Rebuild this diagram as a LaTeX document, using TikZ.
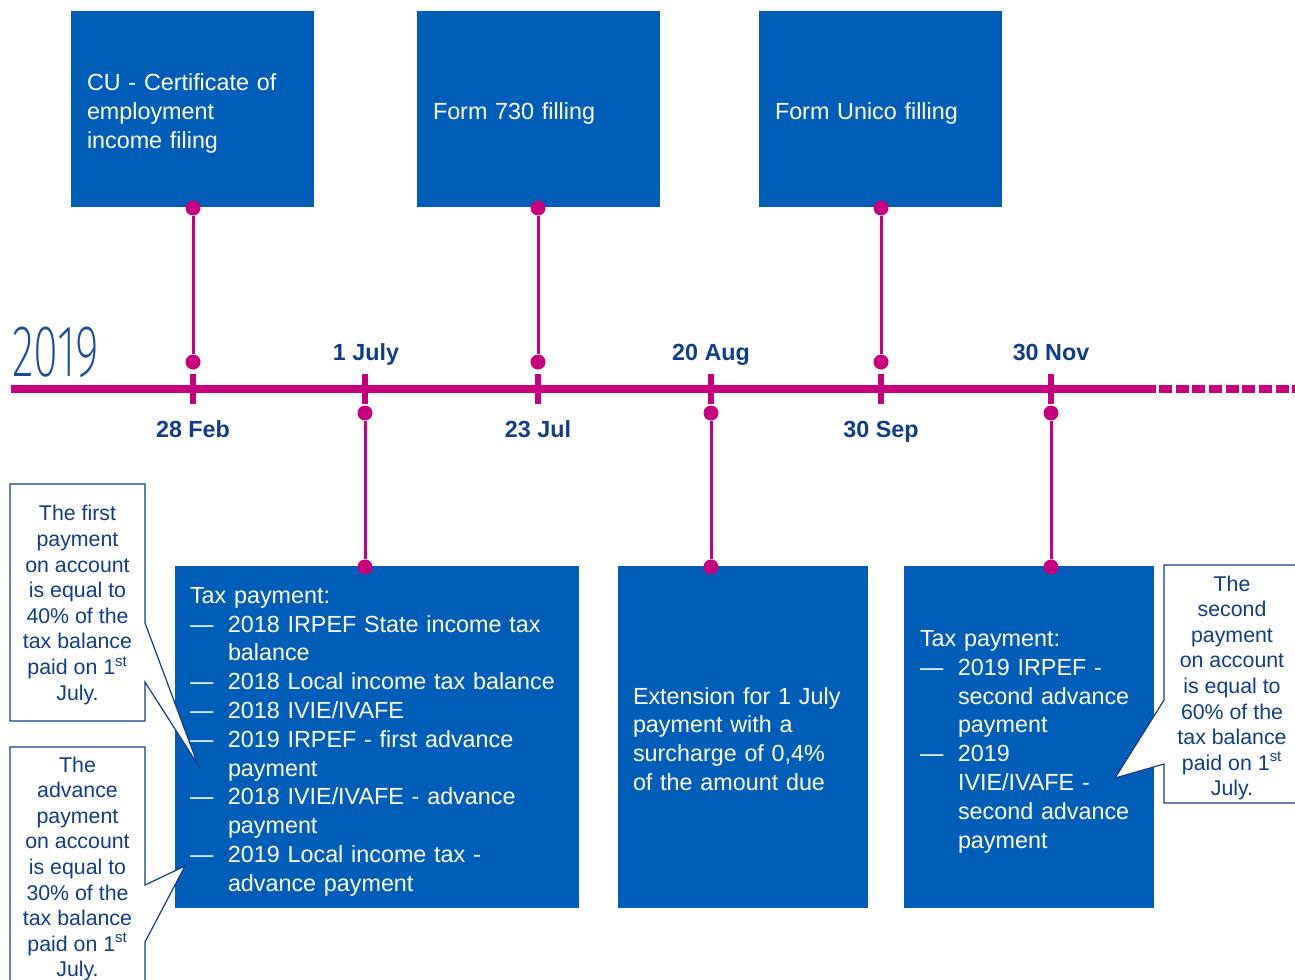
\documentclass[tikz,border=0pt]{standalone}
\usepackage{fontspec}
\usepackage{graphicx}
\setmainfont{Liberation Sans}
\newfontfamily\yearfont{Fira Sans ExtraLight}
\usetikzlibrary{calc}

\definecolor{boxblue}{HTML}{005EB8}
\definecolor{tlmag}{HTML}{C6007E}
\definecolor{navy}{HTML}{113C8C}
\definecolor{yearblue}{HTML}{1D4C9C}

% em-dash bullet and matching hanging indent
\newcommand\dl{\makebox[28.5pt][l]{—}}
\newcommand\ind{\hspace*{28.5pt}}
% fixed extents for the first and last line of a box text,
% so every text block sits at the same place in its box
\newcommand\topln{\rule{0pt}{20pt}}
\newcommand\botln{\rule[-4.46pt]{0pt}{4.46pt}}

\begin{document}
\begin{tikzpicture}[x=0.75pt, y=-0.75pt,
  bluebox/.style={fill=boxblue, text=white,
                  font=\fontsize{17.5}{21.6}\selectfont,
                  align=left, inner ysep=0pt},
  dot/.style={circle, fill=tlmag, inner sep=0pt, minimum size=11.25pt},
  conn/.style={draw=tlmag, line width=2.25pt},
  datelabel/.style={text=navy, font=\fontsize{17.5}{21}\selectfont\bfseries,
                    anchor=base, inner sep=0pt},
  callout/.style={fill=white, draw=navy, line width=0.9pt, line join=miter},
  callouttext/.style={text=navy, font=\fontsize{16}{19.2}\selectfont,
                      align=center, inner sep=0pt},
]
\useasboundingbox (0,0) rectangle (1295,979);
\clip (0,0) rectangle (1295,979);

% ---- timeline ----
\coordinate (tlstart) at (11,389);
\coordinate (tlsolid) at (1156,389);
\coordinate (tldash) at (1159,389);
\coordinate (tlend) at (1300,389);
\draw[tlmag, line width=6pt] (tlstart) -- (tlsolid);
\draw[tlmag, line width=6pt, dash pattern=on 9.75pt off 2.75pt] (tldash) -- (tlend);
\foreach \x in {193,365,538,711,881,1051}
  \draw[tlmag, line width=4.9pt] (\x,374) -- (\x,404);

% ---- year ----
\node[anchor=base west, inner sep=0pt, text=yearblue] (year) at (12,376)
  {\yearfont\fontsize{55}{55}\selectfont\scalebox{0.62}[1]{2019}};

% ---- date labels ----
\node[datelabel] (lfeb) at (193,437) {28 Feb};
\node[datelabel] (ljul) at (538,437) {23 Jul};
\node[datelabel] (lsep) at (881,437) {30 Sep};
\node[datelabel] (ljuly) at (366,360) {1 July};
\node[datelabel] (laug) at (711,360) {20 Aug};
\node[datelabel] (lnov) at (1051,360) {30 Nov};

% ---- upper boxes ----
\node[bluebox, minimum width=182.25pt, minimum height=147pt, text width=158.25pt,
      inner xsep=12pt] (cu) at (192.5,109.3)
  {\topln CU - Certificate of\\employment\\income filing\botln};
\node[bluebox, minimum width=182.25pt, minimum height=147pt, text width=158.25pt,
      inner xsep=12pt] (f730) at (538.5,109.3) {\topln Form 730 filling\botln};
\node[bluebox, minimum width=182.25pt, minimum height=147pt, text width=158.25pt,
      inner xsep=12pt] (unico) at (880.5,109.3) {\topln Form Unico filling\botln};

\node[dot] (cutop) at (193,208) {};
\node[dot] (cubot) at (193,362) {};
\node[dot] (f730top) at (538,208) {};
\node[dot] (f730bot) at (538,362) {};
\node[dot] (unicotop) at (881,208) {};
\node[dot] (unicobot) at (881,362) {};
\draw[conn] (cutop) -- (cubot);
\draw[conn] (f730top) -- (f730bot);
\draw[conn] (unicotop) -- (unicobot);

% ---- lower boxes ----
\node[bluebox, minimum width=303pt, minimum height=256.5pt, text width=280.5pt,
      inner xsep=11.25pt] (julybox) at (377,737)
  {\topln Tax payment:\\
   \dl 2018 IRPEF State income tax\\
   \ind balance\\
   \dl 2018 Local income tax balance\\
   \dl 2018 IVIE/IVAFE\\
   \dl 2019 IRPEF - first advance\\
   \ind payment\\
   \dl 2018 IVIE/IVAFE - advance\\
   \ind payment\\
   \dl 2019 Local income tax -\\
   \ind advance payment\botln};
\node[bluebox, minimum width=187.5pt, minimum height=256.5pt, text width=165pt,
      inner xsep=11.25pt] (augbox) at (743,737)
  {\topln Extension for 1 July\\payment with a\\surcharge of 0,4\%\\of the amount due\botln};
\node[bluebox, minimum width=187.5pt, minimum height=256.5pt, text width=163.5pt,
      inner xsep=12pt] (novbox) at (1029,737)
  {\topln Tax payment:\\
   \dl 2019 IRPEF -\\
   \ind second advance\\
   \ind payment\\
   \dl 2019\\
   \ind IVIE/IVAFE -\\
   \ind second advance\\
   \ind payment\botln};

\node[dot] (julytop) at (365,413) {};
\node[dot] (julybot) at (365,567) {};
\node[dot] (augtop) at (711,413) {};
\node[dot] (augbot) at (711,567) {};
\node[dot] (novtop) at (1051,413) {};
\node[dot] (novbot) at (1051,567) {};
\draw[conn] (julytop) -- (julybot);
\draw[conn] (augtop) -- (augbot);
\draw[conn] (novtop) -- (novbot);

% ---- callouts ----
\draw[callout] (10,484) -- (145,484) -- (145,623) -- (198,765) -- (145,682)
  -- (145,721) -- (10,721) -- cycle;
\node[callouttext] (firstnote) at (77.5,605)
  {The first\\payment\\on account\\is equal to\\40\% of the\\tax balance\\paid on 1\textsuperscript{st}\\July.};

\draw[callout] (10,747) -- (145,747) -- (145,885) -- (185,866) -- (145,942)
  -- (145,995) -- (10,995) -- cycle;
\node[callouttext] (advnote) at (77.5,869)
  {The\\advance\\payment\\on account\\is equal to\\30\% of the\\tax balance\\paid on 1\textsuperscript{st}\\July.};

\draw[callout] (1164,565) -- (1300,565) -- (1300,803) -- (1164,803) -- (1164,764)
  -- (1115,778) -- (1164,700) -- cycle;
\node[callouttext] (secondnote) at (1232,688)
  {The\\second\\payment\\on account\\is equal to\\60\% of the\\tax balance\\paid on 1\textsuperscript{st}\\July.};
\end{tikzpicture}
\end{document}
